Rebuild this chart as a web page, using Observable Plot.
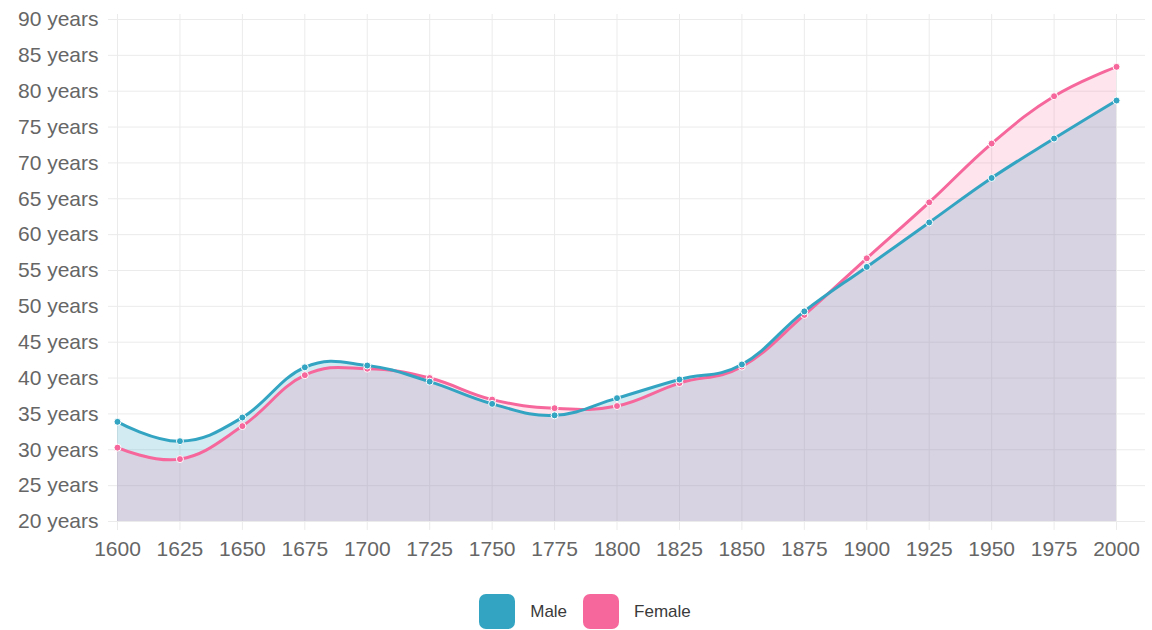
<!DOCTYPE html>
<html>
<head>
<meta charset="utf-8">
<script src="https://cdn.jsdelivr.net/npm/d3@7"></script>
<script src="https://cdn.jsdelivr.net/npm/@observablehq/plot@0.6"></script>
<style>
  html, body { margin: 0; padding: 0; background: #fff; }
  #wrap { position: relative; width: 1152px; height: 630px; font-family: "Liberation Sans", Arial, Helvetica, sans-serif; }
  #legend { position: absolute; top: 594px; left: 0; width: 1152px; display: flex; justify-content: center; align-items: center; padding-left: 18px; box-sizing: border-box; }
  .item { display: flex; align-items: center; margin: 0 8px; }
  .box { width: 36px; height: 35px; border-radius: 7px; margin-right: 15px; }
  .lab { font-size: 17px; color: #3a3a3a; }
</style>
</head>
<body>
<div id="wrap">
  <div id="chart"></div>
  <div id="legend"></div>
</div>
<script>
const years = [1600, 1625, 1650, 1675, 1700, 1725, 1750, 1775, 1800, 1825, 1850, 1875, 1900, 1925, 1950, 1975, 2000];
const male = [33.9, 31.2, 34.5, 41.5, 41.75, 39.5, 36.4, 34.8, 37.2, 39.8, 41.9, 49.3, 55.5, 61.7, 67.9, 73.4, 78.7];
const female = [30.3, 28.7, 33.3, 40.4, 41.3, 40.0, 37.0, 35.8, 36.1, 39.3, 41.6, 48.8, 56.7, 64.5, 72.7, 79.3, 83.4];
const yTicks = [20, 25, 30, 35, 40, 45, 50, 55, 60, 65, 70, 75, 80, 85, 90];
const seriesNames = ["Male", "Female"];
const seriesColors = ["#33a5c2", "#f6679b"];

const maleData = years.map((year, i) => ({year, value: male[i]}));
const femaleData = years.map((year, i) => ({year, value: female[i]}));

const gridColor = "#ebebeb";
const curveOpts = {curve: "cardinal", tension: -0.2};

const area = (data, color, op) => Plot.areaY(data, {x: "year", y1: 20, y2: "value", fill: color, fillOpacity: op, ...curveOpts});
const line = (data, color) => [
  Plot.line(data, {x: "year", y: "value", stroke: color, strokeWidth: 3, ...curveOpts}),
  Plot.dot(data, {x: "year", y: "value", r: 3.5, fill: color, stroke: "#fff", strokeWidth: 1})
];

const chart = Plot.plot({
  width: 1152,
  height: 575,
  marginTop: 19,
  marginBottom: 54,
  marginLeft: 117,
  marginRight: 7,
  style: {fontSize: "21px", fontFamily: "'Liberation Sans', Arial, Helvetica, sans-serif", color: "#666", background: "#fff"},
  x: {domain: [1600, 2011.6]},
  y: {domain: [20, 90]},
  marks: [
    Plot.ruleX(years, {x: d => d, y1: 18.75, y2: 90.7, stroke: gridColor, strokeWidth: 1}),
    Plot.ruleY(yTicks, {y: d => d, x1: 1596.4, x2: 2011.6, stroke: gridColor, strokeWidth: 1}),
    area(maleData, seriesColors[0], 0.22),
    area(femaleData, seriesColors[1], 0.18),
    ...line(femaleData, seriesColors[1]),
    ...line(maleData, seriesColors[0]),
    Plot.axisY({ticks: yTicks, tickFormat: d => `${d} years`, tickSize: 0, tickPadding: 19, label: null}),
    Plot.axisX({ticks: years, tickFormat: d => String(d), tickSize: 0, tickPadding: 20, label: null})
  ]
});
document.getElementById("chart").appendChild(chart);

const legend = document.getElementById("legend");
seriesNames.forEach((name, i) => {
  const item = document.createElement("div");
  item.className = "item";
  const box = document.createElement("div");
  box.className = "box";
  box.style.background = seriesColors[i];
  const lab = document.createElement("span");
  lab.className = "lab";
  lab.textContent = name;
  item.appendChild(box);
  item.appendChild(lab);
  legend.appendChild(item);
});
</script>
</body>
</html>
